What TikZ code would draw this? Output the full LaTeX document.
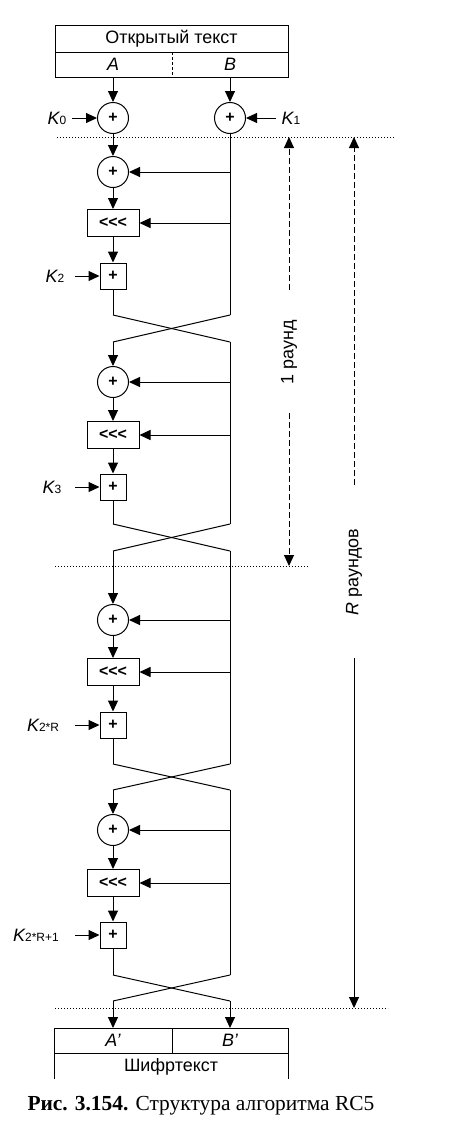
\documentclass[tikz,border=0pt]{standalone}
\usepackage{fontspec}
\setmainfont{Liberation Serif}
\setsansfont{Liberation Sans}
\usetikzlibrary{arrows.meta}
\begin{document}
\begin{tikzpicture}[x=1bp,y=-1bp,line width=1bp,
  >={Triangle[length=11bp,width=10bp]},
  lab/.style={inner sep=0pt,font=\sffamily\fontsize{18}{18}\selectfont},
  xorn/.style={circle,draw,minimum size=31bp,inner sep=0pt,font=\sffamily\bfseries\fontsize{16}{16}\selectfont},
  rotn/.style={rectangle,draw,minimum width=52bp,minimum height=27bp,inner sep=0pt,font=\sffamily\bfseries\fontsize{16}{16}\selectfont},
  addn/.style={rectangle,draw,minimum size=26bp,inner sep=0pt,font=\sffamily\bfseries\fontsize{16}{16}\selectfont},
  klab/.style={inner sep=0pt,font=\sffamily\fontsize{18}{18}\selectfont},
  dotln/.style={line width=0.8bp,dash pattern=on 1.3bp off 1.7bp},
  axln/.style={dash pattern=on 6bp off 3bp}]
\useasboundingbox (0,0) rectangle (470,1148);
\newcommand{\kk}[1]{{\itshape K}{\fontsize{12}{12}\selectfont #1}}
% top box
\draw (55,25) rectangle (288,77);
\draw (55,52) -- (288,52);
\draw[dash pattern=on 3bp off 2bp] (172,52) -- (172,77);
\node[lab] (pt) at (171.5,38.5) {Открытый текст};
\node[lab] (A) at (113,64.5) {\itshape A};
\node[lab] (B) at (230,64.5) {\itshape B};
\coordinate (As) at (113,77);
\coordinate (Bs) at (230,77);
% initial xors
\node[xorn] (x0) at (113,118) {+};
\node[xorn] (x1) at (230,118) {+};
\node[klab] (k0) at (57,118) {\kk{0}};
\node[klab] (k1) at (291,118) {\kk{1}};
\draw[->] (As) -- (x0);
\draw[->] (Bs) -- (x1);
\draw[->] ([xshift=5bp]k0.east) -- (x0);
\draw[->] ([xshift=-5bp]k1.west) -- (x1);
% dotted lines
\draw[dotln] (57,137) -- (395,137);
\draw[dotln] (55,566) -- (308,566);
\draw[dotln] (55,1008) -- (388,1008);
% rounds
\foreach \i/\yc/\yr/\ya/\t/\b/\kl/\kx in {
   1/172/223/276/315/342/{2}/55,
   2/382/435/487/524/551/{3}/52,
   3/620/672/725/764/790/{2*R}/43,
   4/830/883/935/975/1001/{2*R+1}/36} {
  \node[xorn] (c\i) at (113,\yc) {+};
  \node[rotn] (r\i) at (113,\yr) {{<}{<}{<}};
  \node[addn] (a\i) at (113,\ya) {+};
  \node[klab] (k\i) at (\kx,\ya) {\kk{\kl}};
  \coordinate (hc\i) at (230,\yc);
  \coordinate (hr\i) at (230,\yr);
  \coordinate (LT\i) at (113,\t);
  \coordinate (RT\i) at (230,\t);
  \coordinate (LB\i) at (113,\b);
  \coordinate (RB\i) at (230,\b);
  \coordinate (ka\i) at (75,\ya);
  \draw[->] (c\i) -- (r\i);
  \draw[->] (r\i) -- (a\i);
  \draw (a\i) -- (LT\i);
  \draw[->] (hc\i) -- (c\i);
  \draw[->] (hr\i) -- (r\i);
  \draw[->] (ka\i) -- (a\i);
  \draw (LT\i) -- (RB\i);
  \draw (RT\i) -- (LB\i);
}
% column connections
\draw[->] (x0) -- (c1);
\draw (x1) -- (RT1);
\draw[->] (LB1) -- (c2);
\draw (RB1) -- (RT2);
\draw[->] (LB2) -- (c3);
\draw (RB2) -- (RT3);
\draw[->] (LB3) -- (c4);
\draw (RB3) -- (RT4);
% bottom box
\draw (54,1079) -- (54,1028) -- (288,1028) -- (288,1079);
\draw (54,1053) -- (288,1053);
\draw (172,1028) -- (172,1053);
\node[lab] (Ap) at (113,1040.5) {\itshape A'};
\node[lab] (Bp) at (230,1040.5) {\itshape B'};
\node[lab] (ct) at (171,1067) {Шифртекст};
\coordinate (Apn) at (113,1028);
\coordinate (Bpn) at (230,1028);
\draw[->] (LB4) -- (Apn);
\draw[->] (RB4) -- (Bpn);
% right axes
\node[lab,rotate=90] (l1) at (289,352) {1 раунд};
\coordinate (l1a) at (289,137);
\coordinate (l1t) at (289,290);
\coordinate (l1b) at (289,413);
\coordinate (l1z) at (289,566);
\draw[axln,->] (l1t) -- (l1a);
\draw[axln,->] (l1b) -- (l1z);
\node[lab,rotate=90] (lR) at (354,572) {\itshape R\upshape\ раундов};
\coordinate (lRa) at (354,137);
\coordinate (lRt) at (354,485);
\coordinate (lRb) at (354,658);
\coordinate (lRz) at (354,1008);
\draw[axln,->] (lRt) -- (lRa);
\draw[->] (lRb) -- (lRz);
% caption
\node[anchor=west,inner sep=0pt,font=\fontsize{21.5}{21.5}\selectfont] (cap) at (27,1106) {\textbf{Рис. 3.154.} Структура алгоритма RC5};
\end{tikzpicture}
\end{document}
